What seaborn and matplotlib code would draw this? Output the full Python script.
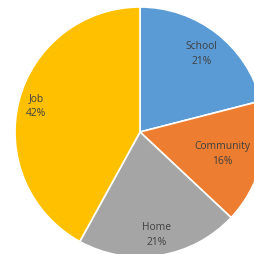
import seaborn as sns
import matplotlib.pyplot as plt
import numpy as np

categories = ["School", "Community", "Home", "Job"]
shares = [21, 16, 21, 42]
colors = ["#5B9BD5", "#ED7D31", "#A5A5A5", "#FFC000"]
# how far from the centre each data label sits (fraction of radius)
label_dist = [0.80, 0.68, 0.83, 0.86]

sns.set_theme(style="white")
plt.rcParams['font.family'] = ['Open Sans', 'DejaVu Sans']

fig = plt.figure(figsize=(2.55, 2.55), dpi=100)
# pie is slightly cropped on the right and bottom like the original
ax = fig.add_axes([15 / 255, -3 / 255, 250 / 255, 250 / 255])
wedges, _ = ax.pie(shares, colors=colors, startangle=90, counterclock=False,
                   wedgeprops=dict(edgecolor="white", linewidth=1.2))
for w, name, val, d in zip(wedges, categories, shares, label_dist):
    ang = np.deg2rad((w.theta1 + w.theta2) / 2)
    ax.text(d * np.cos(ang), d * np.sin(ang), f"{name}\n{val}%",
            ha="center", va="center", fontsize=7.4, color="#404040",
            linespacing=1.5)
ax.set_xlim(-1, 1)
ax.set_ylim(-1, 1)
ax.set_aspect("equal")
ax.axis("off")
fig.savefig("out.png", dpi=100)
